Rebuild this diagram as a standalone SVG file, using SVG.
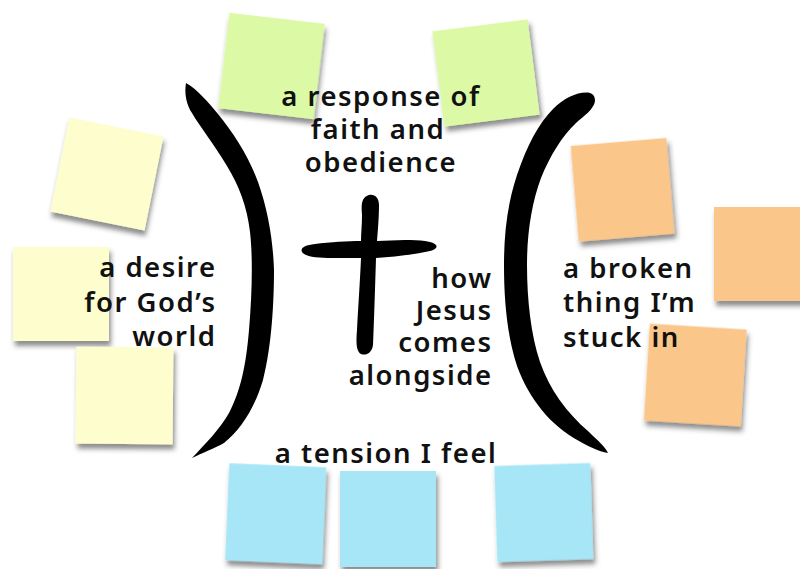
<svg xmlns="http://www.w3.org/2000/svg" width="800" height="569" viewBox="0 0 800 569">
<defs>
<filter id="shadow" x="-20%" y="-20%" width="150%" height="150%">
<feDropShadow dx="2" dy="5" stdDeviation="2.5" flood-color="#333" flood-opacity="0.55"/>
</filter>
<style>
.green{fill:#dcf9a5;filter:url(#shadow)}
.yellow{fill:#fdfdcd;filter:url(#shadow)}
.orange{fill:#fbc689;filter:url(#shadow)}
.blue{fill:#a6e6f6;filter:url(#shadow)}
.ink{fill:#000}
.lbl{font-family:"Noto Sans","Open Sans","Liberation Sans",sans-serif;font-weight:600;font-size:27.5px;letter-spacing:1.5px;fill:#111}
</style>
</defs>
<rect width="800" height="569" fill="#fff"/>
<g id="stickies">
<g id="green1"><rect class="green" x="223.5" y="18" width="96" height="96" transform="rotate(6.6 271.5 66)"/></g>
<g id="green2"><rect class="green" x="438" y="25" width="96" height="96" transform="rotate(-7.2 486 73)"/></g>
<g id="yellow1"><rect class="yellow" x="59" y="126" width="96" height="96" transform="rotate(11.4 107 174)"/></g>
<g id="yellow2"><rect class="yellow" x="13" y="247" width="96" height="94"/></g>
<g id="yellow3"><rect class="yellow" x="76" y="347" width="97" height="97" transform="rotate(0.5 124.5 395.5)"/></g>
<g id="orange1"><rect class="orange" x="574.5" y="141.75" width="96" height="96" transform="rotate(-4.8 622.5 189.75)"/></g>
<g id="orange2"><rect class="orange" x="714" y="207" width="97" height="94"/></g>
<g id="orange3"><rect class="orange" x="646.75" y="326.5" width="97" height="97" transform="rotate(3.5 695.25 375)"/></g>
<g id="blue1"><rect class="blue" x="227.25" y="465.25" width="97" height="97" transform="rotate(2.4 275.75 513.75)"/></g>
<g id="blue2"><rect class="blue" x="340" y="471" width="96" height="96"/></g>
<g id="blue3"><rect class="blue" x="495.75" y="464.5" width="96" height="96" transform="rotate(-1.8 543.75 512.5)"/></g>
</g>
<g id="left-bracket">
<path class="ink" d="M186,83 C184,95 187,105 192,113 C200,127 214,144 227,166 C239,186 247,206 250,232 C253,258 252,295 249,330 C246,365 241,390 229,413 C219,430 207,442 192,458 C202,453 215,448 224,443 C240,430 254,410 263,380 C272,345 274,300 274,270 C273,240 268,210 258,182 C248,155 234,134 218,114 C208,102 198,90 186,83 Z"/>
</g>
<g id="right-bracket">
<path class="ink" d="M590,93 C580,91 565,97 553,109 C539,123 527,145 517,175 C507,205 504,235 504,265 C504,300 507,335 517,366 C529,399 551,426 579,441 C590,447 598,451 608,453 C605,446 597,440 589,432 C566,412 550,390 540,362 C531,335 527,300 527,265 C527,232 532,202 541,178 C550,156 562,136 576,123 C584,116 594,109 595,101 C595,96 593,94 590,93 Z"/>
</g>
<g id="cross">
<path class="ink" d="M369,195 C362,197 361,203 362,215 C362,225 361,233 361,241 C348,241 330,242 315,244 C305,245 300,248 302,252 C305,257 318,258 332,258 C345,258 353,258 361,258 C360,282 358,310 357,330 C356,342 356,351 361,354 C366,356 372,353 373,345 C374,320 375,290 376,258 C392,257 410,255 425,252 C434,251 438,248 436,245 C433,241 420,240 405,240 C395,240 386,241 377,241 C378,230 379,215 379,205 C379,198 375,194 369,195 Z"/>
</g>
<g id="label-top">
<text class="lbl" x="381" y="106" text-anchor="middle">a response of</text>
<text class="lbl" x="378" y="139" text-anchor="middle">faith and</text>
<text class="lbl" x="381" y="172" text-anchor="middle">obedience</text>
</g>
<g id="label-left">
<text class="lbl" x="216.5" y="277" text-anchor="end">a desire</text>
<text class="lbl" x="216.5" y="312" text-anchor="end">for God’s</text>
<text class="lbl" x="216.5" y="346" text-anchor="end">world</text>
</g>
<g id="label-center">
<text class="lbl" x="492.5" y="288" text-anchor="end">how</text>
<text class="lbl" x="492.5" y="320" text-anchor="end">Jesus</text>
<text class="lbl" x="492.5" y="352" text-anchor="end">comes</text>
<text class="lbl" x="492.5" y="385" text-anchor="end">alongside</text>
</g>
<g id="label-right">
<text class="lbl" x="563" y="278" text-anchor="start">a broken</text>
<text class="lbl" x="563" y="312" text-anchor="start">thing I’m</text>
<text class="lbl" x="563" y="347" text-anchor="start">stuck in</text>
</g>
<g id="label-bottom">
<text class="lbl" x="386" y="463" text-anchor="middle">a tension I feel</text>
</g>
</svg>
